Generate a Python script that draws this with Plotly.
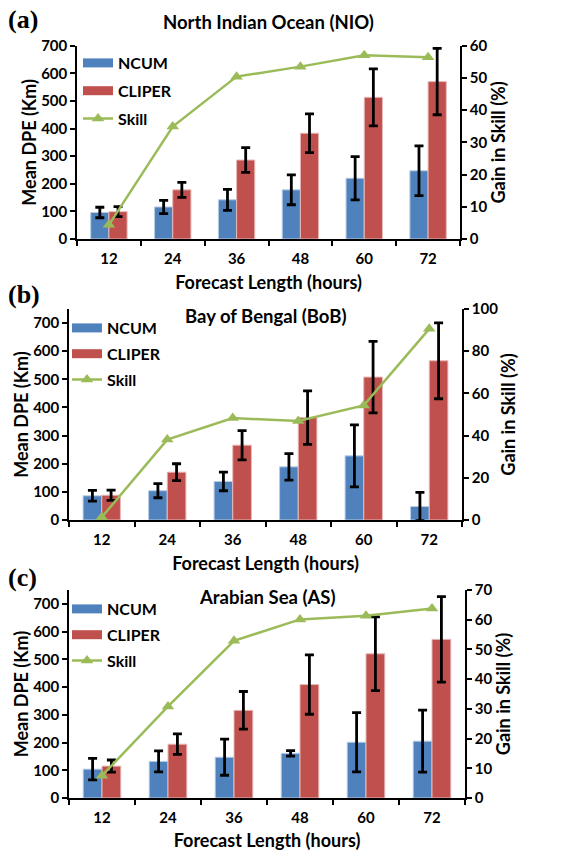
import plotly.graph_objects as go

hours = ["12", "24", "36", "48", "60", "72"]

# Panel (a) North Indian Ocean
nio_ncum = [96, 116, 142, 178, 220, 247]
nio_ncum_err = [19, 24, 38, 54, 78, 90]
nio_cliper = [99, 178, 286, 383, 513, 570]
nio_cliper_err = [18, 27, 45, 70, 103, 120]
nio_skill = [4.4, 34.9, 50.4, 53.5, 57.0, 56.4]

# Panel (b) Bay of Bengal
bob_ncum = [86, 104, 137, 189, 228, 48]
bob_ncum_err = [19, 25, 33, 47, 110, 50]
bob_cliper = [88, 170, 266, 364, 508, 566]
bob_cliper_err = [18, 30, 52, 95, 127, 135]
bob_skill = [1.3, 38.1, 48.3, 46.9, 54.3, 90.6]

# Panel (c) Arabian Sea
as_ncum = [104, 132, 147, 161, 201, 205]
as_ncum_err = [39, 38, 65, 10, 107, 112]
as_cliper = [115, 194, 316, 409, 520, 572]
as_cliper_err = [22, 37, 68, 107, 133, 154]
as_skill = [7.5, 30.8, 52.9, 60.1, 61.3, 63.8]

panels = [
    dict(ncum=nio_ncum, ncum_err=nio_ncum_err, cliper=nio_cliper, cliper_err=nio_cliper_err,
         skill=nio_skill, title="North Indian Ocean (NIO)", label="(a)",
         yrange=[0, 700], y2range=[0, 60], y2dtick=10,
         xdom=[77, 460], ydom=[45.7, 239], title_y=22, label_y=19,
         legend_xy=(78, 46), leg_gap=4),
    dict(ncum=bob_ncum, ncum_err=bob_ncum_err, cliper=bob_cliper, cliper_err=bob_cliper_err,
         skill=bob_skill, title="Bay of Bengal (BoB)", label="(b)",
         yrange=[0, 750], y2range=[0, 100], y2dtick=20,
         xdom=[69, 462], ydom=[309, 520], title_y=316, label_y=295,
         legend_xy=(67, 311), leg_gap=2),
    dict(ncum=as_ncum, ncum_err=as_ncum_err, cliper=as_cliper, cliper_err=as_cliper_err,
         skill=as_skill, title="Arabian Sea (AS)", label="(c)",
         yrange=[0, 750], y2range=[0, 70], y2dtick=10,
         xdom=[69, 465], ydom=[590, 798], title_y=597, label_y=577,
         legend_xy=(67, 592), leg_gap=2),
]

W, H = 577, 851
BLUE = "#4F81BD"
RED = "#C0504D"
GREEN = "#9BBB59"
FONT = "Lato"

fig = go.Figure()
layout = dict(
    width=W, height=H, margin=dict(l=0, r=0, t=0, b=0, autoexpand=False),
    paper_bgcolor="white", plot_bgcolor="white",
    barmode="group", bargap=0.43, bargroupgap=0,
    font=dict(family=FONT, color="black", size=15),
    annotations=[],
)

for i, p in enumerate(panels):
    n = i + 1
    xa = "x" if n == 1 else f"x{n}"
    ya = "y" if n == 1 else f"y{n}"
    ya2 = f"y{n+3}"
    leg = "legend" if n == 1 else f"legend{n}"
    eb = lambda arr: dict(type="data", array=arr, visible=True, color="black", thickness=2.8, width=4.5)
    fig.add_trace(go.Bar(x=hours, y=p["ncum"], name="<b>NCUM</b>", marker_color=BLUE,
                         marker_line=dict(color="#B9CDE5", width=1),
                         error_y=eb(p["ncum_err"]), xaxis=xa, yaxis=ya, showlegend=False,
                         offsetgroup="a"))
    fig.add_trace(go.Bar(x=hours, y=p["cliper"], name="<b>CLIPER</b>", marker_color=RED,
                         marker_line=dict(color="#E6B9B8", width=1),
                         error_y=eb(p["cliper_err"]), xaxis=xa, yaxis=ya, showlegend=False,
                         offsetgroup="b"))
    # legend swatches (wide rectangles like the original)
    for nm, col, grp in (("NCUM", BLUE, "g1"), ("CLIPER", RED, "g2")):
        fig.add_trace(go.Scatter(x=[None], y=[None], mode="lines", name=f"<b>{nm}</b>",
                                 line=dict(color=col, width=9), xaxis=xa, yaxis=ya,
                                 legend=leg, legendgroup=f"{grp}{n}", hoverinfo="skip"))
    fig.add_trace(go.Scatter(x=hours, y=p["skill"], name="<b>Skill</b>", mode="lines+markers",
                             line=dict(color=GREEN, width=2.5),
                             marker=dict(symbol="triangle-up", size=11, color=GREEN),
                             xaxis=xa, yaxis=ya2, legend=leg, legendgroup=f"g3{n}"))

    xdom = [p["xdom"][0] / W, p["xdom"][1] / W]
    ydom = [1 - p["ydom"][1] / H, 1 - p["ydom"][0] / H]
    xkey = "xaxis" if n == 1 else f"xaxis{n}"
    ykey = "yaxis" if n == 1 else f"yaxis{n}"
    y2key = f"yaxis{n+3}"
    layout[xkey] = dict(domain=xdom, anchor=ya, type="category", range=[-0.5, 5.5],
                        showline=True, linecolor="black", linewidth=1.5,
                        ticks="outside", tickson="boundaries", ticklen=5, tickcolor="black",
                        tickwidth=1.5, showgrid=False, automargin=False,
                        ticklabelstandoff=5,
                        tickfont=dict(size=15, family=FONT),
                        tickprefix="<b>", ticksuffix="</b>",
                        title=dict(text="<b>Forecast Length (hours)</b>", font=dict(size=18, family=FONT),
                                   standoff=11))
    layout[ykey] = dict(domain=ydom, anchor=xa, range=p["yrange"], dtick=100,
                        showline=True, linecolor="black", linewidth=1.5,
                        ticks="outside", ticklen=5, tickcolor="black", tickwidth=1.5,
                        showgrid=False, zeroline=False, automargin=False,
                        tickfont=dict(size=15, family=FONT),
                        tickprefix="<b>", ticksuffix="</b>",
                        title=dict(text="<b>Mean DPE (Km)</b>", font=dict(size=18, family=FONT),
                                   standoff=0))
    layout[y2key] = dict(domain=ydom, anchor=xa, overlaying=ya, side="right",
                         range=p["y2range"], dtick=p["y2dtick"],
                         showline=True, linecolor="black", linewidth=1.5,
                         ticks="outside", ticklen=5, tickcolor="black", tickwidth=1.5,
                         showgrid=False, zeroline=False, automargin=False,
                         tickfont=dict(size=15, family=FONT),
                         tickprefix="<b>", ticksuffix="</b>",
                         title=dict(text="<b>Gain in Skill (%)</b>", font=dict(size=18, family=FONT),
                                    standoff=5))
    layout[leg] = dict(x=p["legend_xy"][0] / W, y=1 - p["legend_xy"][1] / H,
                       xanchor="left", yanchor="top", bgcolor="rgba(0,0,0,0)",
                       font=dict(size=16, family=FONT), tracegroupgap=p["leg_gap"],
                       itemwidth=30, traceorder="grouped")
    layout["annotations"].append(dict(
        text=f"<b>{p['title']}</b>", x=(p["xdom"][0] + p["xdom"][1]) / 2 / W,
        y=1 - p["title_y"] / H, xref="paper", yref="paper", showarrow=False,
        xanchor="center", yanchor="middle", font=dict(size=18.5, family=FONT)))
    layout["annotations"].append(dict(
        text=f"<b>{p['label']}</b>", x=6 / W, y=1 - p["label_y"] / H,
        xref="paper", yref="paper", showarrow=False, xanchor="left", yanchor="middle",
        font=dict(size=26, family="Liberation Serif")))

fig.update_layout(**layout)
fig.write_html("out.html")
